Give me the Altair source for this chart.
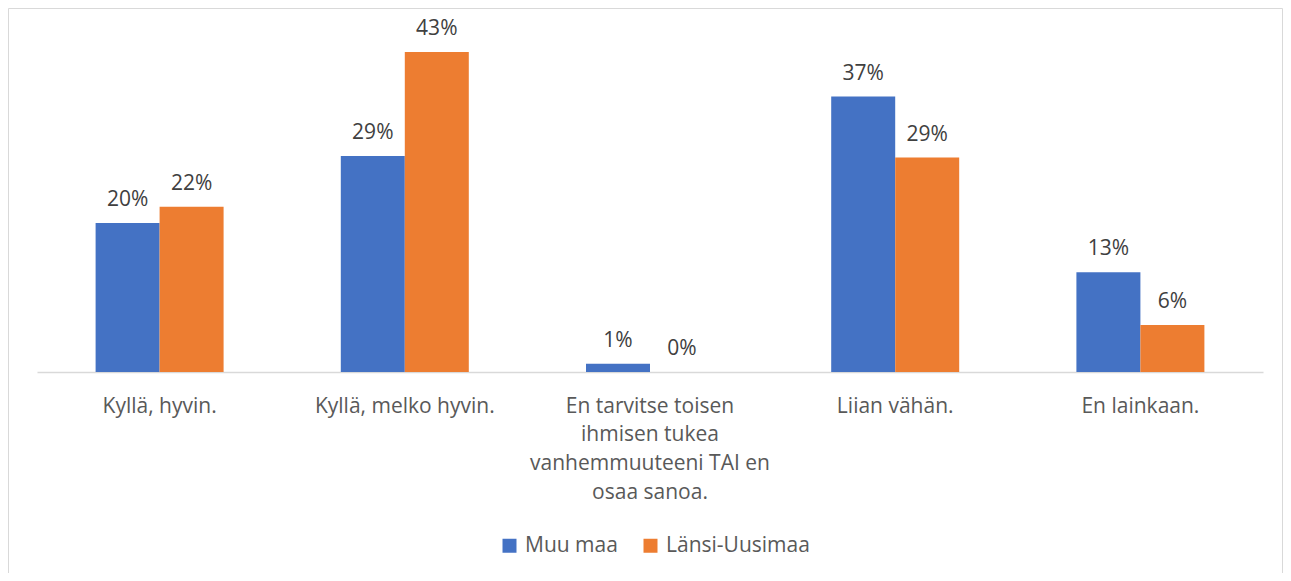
import json
import altair as alt
import pandas as pd

categories = [
    "Kyllä, hyvin.",
    "Kyllä, melko hyvin.",
    "En tarvitse toisen ihmisen tukea vanhemmuuteeni TAI en osaa sanoa.",
    "Liian vähän.",
    "En lainkaan.",
]
series = ["Muu maa", "Länsi-Uusimaa"]
muu_maa = [0.20, 0.29, 0.011, 0.37, 0.134]
lansi_uusimaa = [0.222, 0.43, 0.0, 0.288, 0.063]
wrapped = {
    categories[2]: ["En tarvitse toisen", "ihmisen tukea", "vanhemmuuteeni TAI en", "osaa sanoa."],
}
colors = ["#4472C4", "#ED7D31"]

rows = []
for i, c in enumerate(categories):
    rows.append({"kategoria": c, "sarja": series[0], "arvo": muu_maa[i]})
    rows.append({"kategoria": c, "sarja": series[1], "arvo": lansi_uusimaa[i]})
df = pd.DataFrame(rows)

label_expr = "datum.label"
for k, v in wrapped.items():
    label_expr = f"datum.label == {json.dumps(k)} ? {json.dumps(v)} : " + label_expr

FONT = "Open Sans"
FS = 21
W, H = 1226, 335

x_enc = alt.X(
    "kategoria:N",
    sort=categories,
    scale=alt.Scale(paddingInner=0.478, paddingOuter=0.239),
    axis=alt.Axis(
        title=None,
        labelAngle=0,
        labelExpr=label_expr,
        labelFont=FONT,
        labelFontSize=FS,
        labelColor="#595959",
        labelLineHeight=28.7,
        labelPadding=23,
        labelBaseline="top",
        labelLimit=400,
        ticks=False,
        tickSize=0,
        domainColor="#D9D9D9",
        domainWidth=1.5,
    ),
)
xo_enc = alt.XOffset("sarja:N", sort=series, scale=alt.Scale(paddingInner=0, paddingOuter=0))
y_enc = alt.Y("arvo:Q", scale=alt.Scale(domain=[0, 0.45]), axis=None)

bars = alt.Chart(df).mark_bar().encode(
    x=x_enc,
    xOffset=xo_enc,
    y=y_enc,
    color=alt.Color(
        "sarja:N",
        sort=series,
        scale=alt.Scale(domain=series, range=colors),
        legend=alt.Legend(
            title=None,
            orient="none",
            direction="horizontal",
            legendX=462,
            legendY=498,
            symbolType="square",
            symbolSize=196,
            symbolStrokeWidth=0,
            symbolOpacity=1,
            labelFont=FONT,
            labelFontSize=FS,
            labelColor="#595959",
            labelOffset=5,
            columnPadding=22,
        ),
    ),
)

texts = alt.Chart(df).mark_text(
    dy=-17, baseline="alphabetic", font=FONT, fontSize=FS, color="#404040"
).encode(
    x=alt.X("kategoria:N", sort=categories),
    xOffset=alt.XOffset("sarja:N", sort=series),
    y=alt.Y("arvo:Q"),
    text=alt.Text("arvo:Q", format=".0%"),
)

frame = alt.Chart(alt.Data(values=[{"k": 1}])).mark_rect(
    fillOpacity=0, stroke="#D9D9D9", strokeWidth=1
).encode(
    x=alt.value(-28.5), x2=alt.value(1245.5), y=alt.value(-28.5), y2=alt.value(700)
)

chart = alt.layer(frame, bars, texts).properties(
    width=W,
    height=H,
    autosize=alt.AutoSizeParams(type="none"),
    padding={"left": 29, "top": 29, "right": 20, "bottom": 201},
).configure_view(stroke=None)

chart.save("out.html", embed_options={"renderer": "svg", "actions": False})
